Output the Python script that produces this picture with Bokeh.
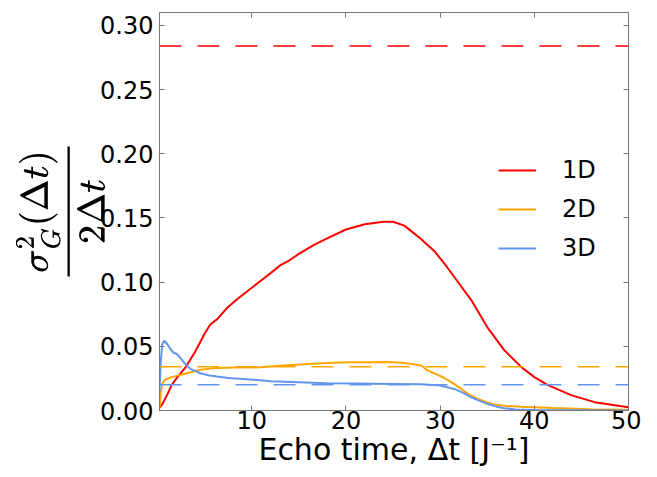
from bokeh.plotting import figure
from bokeh.models import (FixedTicker, NumeralTickFormatter, LinearAxis, Legend,
                          LegendItem, Span, Range1d)
from bokeh.embed import file_html
from bokeh.resources import INLINE

# ---- data ----
x1d = [0.2, 0.5, 1.0, 1.5, 2.0, 3.0, 4.0, 5.0, 5.6, 6.3, 7.4, 8.5, 9.9, 11.3, 12.0, 13.0,
       14.0, 15.0, 16.6, 18.0, 20.0, 22.0, 24.0, 25.0, 26.2, 27.9, 29.4, 30.5, 31.5, 33.3,
       35.0, 36.8, 38.6, 40.0, 41.4, 43.9, 46.4, 50.0]
y1d = [0.002, 0.005, 0.012, 0.020, 0.025, 0.034, 0.046, 0.060, 0.067, 0.071, 0.080, 0.087,
       0.095, 0.103, 0.107, 0.113, 0.117, 0.122, 0.129, 0.134, 0.141, 0.145, 0.147, 0.147,
       0.144, 0.134, 0.124, 0.114, 0.104, 0.086, 0.065, 0.047, 0.034, 0.026, 0.020, 0.012,
       0.0065, 0.0025]

x2d = [0.2, 0.35, 0.5, 0.8, 1.5, 2.8, 4.5, 6.3, 8.1, 10.9, 13.4, 16.0, 18.5, 20.5, 22.5,
       24.4, 26.0, 27.0, 28.0, 28.7, 29.5, 30.4, 31.3, 32.2, 33.0, 34.0, 35.0, 35.7, 37.0,
       38.6, 42.0, 46.0, 50.0]
y2d = [0.002, 0.015, 0.021, 0.024, 0.026, 0.0285, 0.0318, 0.0332, 0.0334, 0.0336, 0.035,
       0.0362, 0.0372, 0.0376, 0.0375, 0.0377, 0.0372, 0.0363, 0.035, 0.031, 0.0285, 0.0255,
       0.0215, 0.017, 0.0128, 0.009, 0.0062, 0.0047, 0.0035, 0.003, 0.002, 0.001, 0.0005]

x3d = [0.2, 0.35, 0.5, 0.7, 1.0, 1.35, 1.7, 2.06, 2.4, 2.77, 3.48, 4.54, 5.5, 6.3, 7.5, 9.1,
       10.9, 12.0, 15.0, 18.0, 21.0, 25.0, 28.0, 30.0, 31.5, 32.5, 33.3, 34.2, 35.0, 36.0,
       36.8, 38.0, 40.0, 45.0, 50.0]
y3d = [0.015, 0.040, 0.052, 0.0544, 0.052, 0.048, 0.045, 0.044, 0.041, 0.0376, 0.0324,
       0.029, 0.0272, 0.0264, 0.0254, 0.0246, 0.0235, 0.0228, 0.022, 0.0212, 0.021, 0.0207,
       0.0205, 0.0194, 0.0168, 0.0135, 0.0103, 0.0075, 0.0052, 0.003, 0.0018, 0.0008, 0.0003,
       0.0001, 0.0]

ref_levels = [0.284, 0.034, 0.020]
series_names = ["1D", "2D", "3D"]
colors = ["#ff0000", "#ffa500", "#6495ed"]
x_ticks = [10, 20, 30, 40, 50]
y_ticks = [0.00, 0.05, 0.10, 0.15, 0.20, 0.25, 0.30]

FONT = "DejaVu Sans"
AX = "#777777"

p = figure(width=641, height=469, output_backend="svg", toolbar_location=None,
           x_range=Range1d(0.2, 50), y_range=Range1d(0, 0.31),
           min_border_left=159, min_border_right=13, min_border_top=12, min_border_bottom=51)
p.background_fill_color = "white"
p.border_fill_color = "white"
p.grid.visible = False
p.outline_line_color = AX
p.outline_line_width = 1

renderers = []
for xs, ys, c in zip([x1d, x2d, x3d], [y1d, y2d, y3d], colors):
    renderers.append(p.line(xs, ys, line_color=c, line_width=2))

for lvl, c in zip(ref_levels, colors):
    p.add_layout(Span(location=lvl, dimension="width", line_color=c, line_width=1.5,
                      line_dash="22 16"))

def style_axis(ax, ticks, labels=True):
    ax.axis_line_color = AX
    ax.major_tick_line_color = AX
    ax.major_tick_in = 5
    ax.major_tick_out = 0
    ax.minor_tick_line_color = None
    ax.major_label_text_font = FONT
    ax.major_label_text_font_size = "24px"
    ax.major_label_text_color = "black"
    ax.major_label_standoff = 6
    if not labels:
        ax.major_label_overrides = {t: "" for t in ticks}
        ax.major_label_standoff = 0

xax = p.xaxis[0]
yax = p.yaxis[0]
xax.ticker = FixedTicker(ticks=x_ticks)
yax.ticker = FixedTicker(ticks=y_ticks)
yax.formatter = NumeralTickFormatter(format="0.00")
style_axis(xax, x_ticks)
style_axis(yax, y_ticks)
xax.major_label_standoff = 0

xax.axis_label = "Echo time, Δt [J⁻¹]"
xax.axis_label_text_font = FONT
xax.axis_label_text_font_size = "30px"
xax.axis_label_text_font_style = "normal"
xax.axis_label_text_color = "black"
xax.axis_label_standoff = 0

yax.axis_label = r"$$\frac{\sigma_G^2(\Delta t)}{2\Delta t}$$"
yax.axis_label_text_font_size = "32px"
yax.axis_label_text_font_style = "normal"
yax.axis_label_text_color = "black"
yax.axis_label_standoff = -8

top = LinearAxis(ticker=FixedTicker(ticks=x_ticks))
right = LinearAxis(ticker=FixedTicker(ticks=y_ticks))
style_axis(top, x_ticks, labels=False)
style_axis(right, y_ticks, labels=False)
p.add_layout(top, "above")
p.add_layout(right, "right")

legend = Legend(items=[LegendItem(label=n, renderers=[r]) for n, r in zip(series_names, renderers)],
                location=(339, 147), border_line_color=None, background_fill_alpha=0,
                label_text_font=FONT, label_text_font_size="24px", label_text_color="black",
                glyph_width=38, glyph_height=30, label_height=30, spacing=9, label_standoff=26,
                padding=0, margin=0)
p.add_layout(legend, "center")

open("out.html", "w").write(file_html(p, INLINE))
